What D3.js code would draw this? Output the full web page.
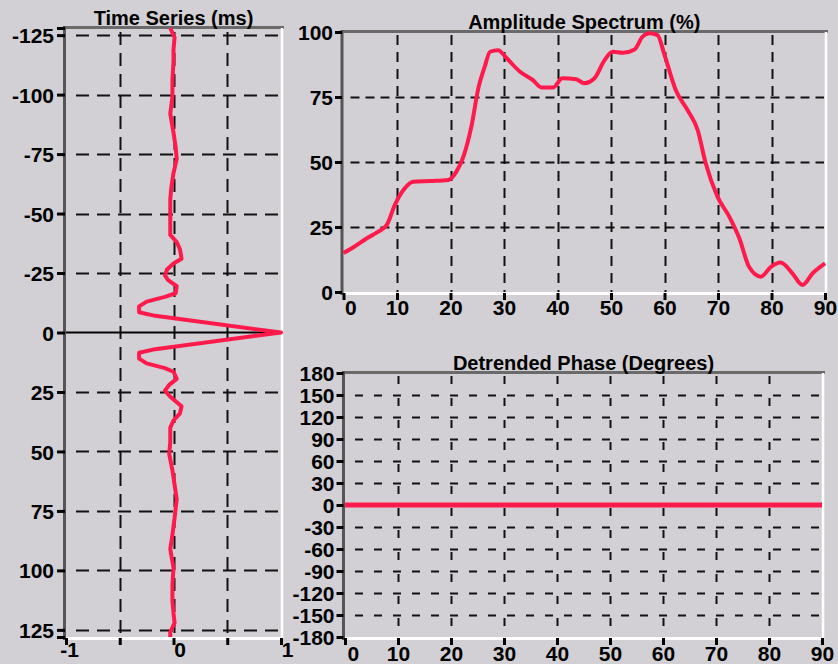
<!DOCTYPE html>
<html>
<head>
<meta charset="utf-8">
<script src="https://cdn.jsdelivr.net/npm/d3@7"></script>
<style>
  html, body { margin: 0; padding: 0; background: #d2d0d4; }
  svg { display: block; }
  text { font-family: "Liberation Sans", Arial, sans-serif; font-weight: bold; fill: #000; }
</style>
</head>
<body>
<svg id="chart" width="838" height="664"></svg>
<script>
// ---- Wavelet (time series), time in ms vs normalised amplitude ----
const waveTime = [-128, -124, -119, -114, -106, -99, -92, -84, -78, -73, -67, -61, -56, -48, -41, -38, -35, -31, -29, -26.5, -24, -22, -19.5, -16.5, -15, -13, -11, -8.5, -7, 0,
                  7, 8.5, 11, 13, 15, 16.5, 19.5, 22, 24.5, 27, 31, 34, 37, 40, 46, 51, 58, 64, 70, 78, 85, 91, 99, 106, 113, 118, 122, 126, 128];
const waveAmp  = [-0.03, 0.01, 0.0, 0.0, -0.01, -0.01, -0.03, 0.0, 0.02, 0.03, 0.0, -0.02, -0.03, -0.03, -0.03, 0.03, 0.06, 0.075, 0.0, -0.06, -0.08, -0.05, 0.03, 0.02, -0.08, -0.25, -0.32, -0.32, -0.17, 1.0,
                  -0.17, -0.32, -0.32, -0.25, -0.08, 0.0, 0.03, -0.04, -0.08, -0.03, 0.075, 0.06, 0.0, -0.03, -0.03, -0.04, -0.01, 0.01, 0.03, 0.01, -0.01, -0.03, 0.0, -0.01, -0.01, 0.0, 0.01, -0.03, -0.03];

// ---- Amplitude spectrum, frequency in Hz vs percent ----
const specFreq = [0, 2, 4.3, 6.5, 8.1, 9.6, 11.2, 13, 16.2, 19.6, 21.1, 22.4, 23.9, 25.2, 26.4, 27.4, 28.9, 30.5, 33, 35.4, 37, 39.2, 40.9, 43.5, 45, 46.9, 48.8, 50.3, 52.2, 54.4, 55.9, 57.2, 58.7, 60, 62.1, 64.3, 66.2, 67.7, 69.9, 72.1, 74, 75.8, 78, 79.9, 81.7, 83.9, 85.8, 87.7, 90];
const specAmp  = [15, 17.4, 20.6, 23.2, 25.8, 33.5, 39.2, 42.4, 42.7, 43.1, 46.3, 52, 63.6, 78.3, 86.7, 92.4, 93, 89.9, 84.7, 81.5, 78.7, 78.7, 82.2, 81.8, 80.3, 82.2, 89.2, 92.4, 92, 93.3, 98.2, 99.5, 98.8, 91.2, 77.7, 70, 62.3, 49.5, 36.7, 29, 20.6, 9.7, 5.9, 9.7, 11.3, 7.2, 2.7, 7.2, 11];

// ---- Detrended phase, frequency in Hz vs degrees ----
const phaseFreq = [0, 10, 20, 30, 40, 50, 60, 70, 80, 90];
const phaseDeg  = [0, 0, 0, 0, 0, 0, 0, 0, 0, 0];

// ---- Tick values ----
const waveTimeTicks = [-125, -100, -75, -50, -25, 0, 25, 50, 75, 100, 125];
const waveAmpTicks  = [-1, -0.5, 0, 0.5, 1];
const freqTicks     = [0, 10, 20, 30, 40, 50, 60, 70, 80, 90];
const specTicks     = [0, 25, 50, 75, 100];
const phaseTicks    = [-180, -150, -120, -90, -60, -30, 0, 30, 60, 90, 120, 150, 180];

const titles = ["Time Series (ms)", "Amplitude Spectrum (%)", "Detrended Phase (Degrees)"];

const RED = "#ff1a4c";
const TICK_FONT = "21px";
const svg = d3.select("#chart");

// Scales
const tsX = d3.scaleLinear().domain([-1, 1]).range([66, 281]);
const tsY = d3.scaleLinear().domain([-128, 128]).range([28, 637]);
const amX = d3.scaleLinear().domain([0, 90]).range([343.5, 825]);
const amY = d3.scaleLinear().domain([0, 100]).range([292, 32]);
const phX = d3.scaleLinear().domain([0, 90]).range([345, 822]);
const phY = d3.scaleLinear().domain([-180, 180]).range([637, 373]);

// Panel frame: dark top/left edges, white bottom/right edges
function frame(g, x, y) {
  const [x0, x1] = x.range();
  const [yb, yt] = [Math.max(...y.range()), Math.min(...y.range())];
  g.append("line").attr("x1", x0 - 2).attr("x2", x1 + 3).attr("y1", yt - 0.5).attr("y2", yt - 0.5)
    .attr("stroke", "#6a6a6a").attr("stroke-width", 3);
  g.append("line").attr("x1", x1 + 1).attr("x2", x1 + 1).attr("y1", yt).attr("y2", yb + 2)
    .attr("stroke", "#ffffff").attr("stroke-width", 2.5);
  g.append("line").attr("x1", x0).attr("x2", x1 + 2).attr("y1", yb + 1.5).attr("y2", yb + 1.5)
    .attr("stroke", "#ffffff").attr("stroke-width", 3);
  g.append("line").attr("x1", x0 - 1.5).attr("x2", x0 - 1.5).attr("y1", yt - 2).attr("y2", yb + 3)
    .attr("stroke", "#555555").attr("stroke-width", 3);
}

function hGrid(g, x, y, vals, dash, offset) {
  const [x0, x1] = x.range();
  g.selectAll(null).data(vals).join("line")
    .attr("x1", x0 + offset).attr("x2", x1 - 1)
    .attr("y1", d => Math.round(y(d)) + 0.5).attr("y2", d => Math.round(y(d)) + 0.5)
    .attr("stroke", "#111").attr("stroke-width", 2).attr("stroke-dasharray", dash);
}
function vGrid(g, x, y, vals, dash, offset) {
  const [yb, yt] = [Math.max(...y.range()), Math.min(...y.range())];
  g.selectAll(null).data(vals).join("line")
    .attr("x1", d => Math.round(x(d)) + 0.5).attr("x2", d => Math.round(x(d)) + 0.5)
    .attr("y1", yt + offset).attr("y2", yb)
    .attr("stroke", "#111").attr("stroke-width", 2).attr("stroke-dasharray", dash);
}

function styleAxis(sel) {
  sel.select(".domain").remove();
  sel.selectAll(".tick line").attr("stroke", "#000").attr("stroke-width", 3);
  sel.selectAll(".tick text").style("font-size", TICK_FONT)
    .style("font-family", "'Liberation Sans', Arial, sans-serif").style("font-weight", "bold").attr("fill", "#000");
}

function title(g, x, y, txt) {
  const [x0, x1] = x.range();
  const yt = Math.min(...y.range());
  g.append("text").attr("x", (x0 + x1) / 2).attr("y", yt - 3).attr("text-anchor", "middle")
    .style("font-size", "20px").text(txt);
}

// ---------------- Time series panel ----------------
const gTs = svg.append("g");
vGrid(gTs, tsX, tsY, [-0.5, 0, 0.5], "13,8", 4);
hGrid(gTs, tsX, tsY, waveTimeTicks.filter(d => d !== 0), "13,8", 10);
gTs.append("line").attr("x1", tsX(-1)).attr("x2", tsX(1)).attr("y1", tsY(0)).attr("y2", tsY(0))
  .attr("stroke", "#000").attr("stroke-width", 2);
frame(gTs, tsX, tsY);
const tsLeft = gTs.append("g").attr("transform", `translate(${tsX(-1) - 1},0)`)
  .call(d3.axisLeft(tsY).tickValues([-128, ...waveTimeTicks, 128]).tickSize(8).tickPadding(3)
    .tickFormat(d => (d === -128 || d === 128) ? "" : String(d)));
styleAxis(tsLeft);
tsLeft.selectAll(".tick text").attr("dy", "0.36em");
const tsBottom = gTs.append("g").attr("transform", `translate(0,${tsY(128) + 1})`)
  .call(d3.axisBottom(tsX).tickValues(waveAmpTicks).tickSize(7).tickPadding(-3)
    .tickFormat(d => Number.isInteger(d) ? String(d) : ""));
styleAxis(tsBottom);
tsBottom.selectAll(".tick text").attr("dx", d => d === -1 ? 3 : 6);
gTs.append("path")
  .datum(waveTime.map((t, i) => [waveAmp[i], t]))
  .attr("fill", "none").attr("stroke", RED).attr("stroke-width", 4).attr("stroke-linejoin", "round")
  .attr("d", d3.line().x(d => tsX(d[0])).y(d => tsY(d[1])));
title(gTs, tsX, tsY, titles[0]);

// ---------------- Amplitude spectrum panel ----------------
const gAm = svg.append("g");
vGrid(gAm, amX, amY, freqTicks.filter(d => d > 0 && d < 90), "10,7", 3);
hGrid(gAm, amX, amY, [25, 50, 75], "9,6", 7);
frame(gAm, amX, amY);
const amLeft = gAm.append("g").attr("transform", `translate(${amX(0) - 1.5},0)`)
  .call(d3.axisLeft(amY).tickValues(specTicks).tickSize(7).tickPadding(2).tickFormat(d => String(d)));
styleAxis(amLeft);
amLeft.selectAll(".tick text").attr("dy", "0.36em");
const amBottom = gAm.append("g").attr("transform", `translate(0,${amY(0) + 1})`)
  .call(d3.axisBottom(amX).tickValues(freqTicks).tickSize(7).tickPadding(0).tickFormat(d => String(d)));
styleAxis(amBottom);
amBottom.selectAll(".tick text").filter(d => d === 0).attr("text-anchor", "start").attr("dx", 1);
gAm.append("path")
  .datum(specFreq.map((f, i) => [f, specAmp[i]]))
  .attr("fill", "none").attr("stroke", RED).attr("stroke-width", 4).attr("stroke-linejoin", "round")
  .attr("d", d3.line().curve(d3.curveMonotoneX).x(d => amX(d[0])).y(d => amY(d[1])));
title(gAm, amX, amY, titles[1]);

// ---------------- Detrended phase panel ----------------
const gPh = svg.append("g");
vGrid(gPh, phX, phY, freqTicks.filter(d => d > 0 && d < 90), "8,14", 3);
hGrid(gPh, phX, phY, phaseTicks.filter(d => d !== 0 && Math.abs(d) !== 180), "8,11", 10);
frame(gPh, phX, phY);
const phLeft = gPh.append("g").attr("transform", `translate(${phX(0) - 1.5},0)`)
  .call(d3.axisLeft(phY).tickValues(phaseTicks).tickSize(7).tickPadding(2).tickFormat(d => String(d)));
styleAxis(phLeft);
phLeft.selectAll(".tick text").attr("dy", "0.36em");
const phBottom = gPh.append("g").attr("transform", `translate(0,${phY(-180) + 1})`)
  .call(d3.axisBottom(phX).tickValues(freqTicks).tickSize(7).tickPadding(1).tickFormat(d => String(d)));
styleAxis(phBottom);
phBottom.selectAll(".tick text").filter(d => d === 0).attr("text-anchor", "start").attr("dx", 2);
gPh.append("path")
  .datum(phaseFreq.map((f, i) => [f, phaseDeg[i]]))
  .attr("fill", "none").attr("stroke", RED).attr("stroke-width", 5)
  .attr("d", d3.line().x(d => phX(d[0])).y(d => phY(d[1])));
title(gPh, phX, phY, titles[2]);
</script>
</body>
</html>
